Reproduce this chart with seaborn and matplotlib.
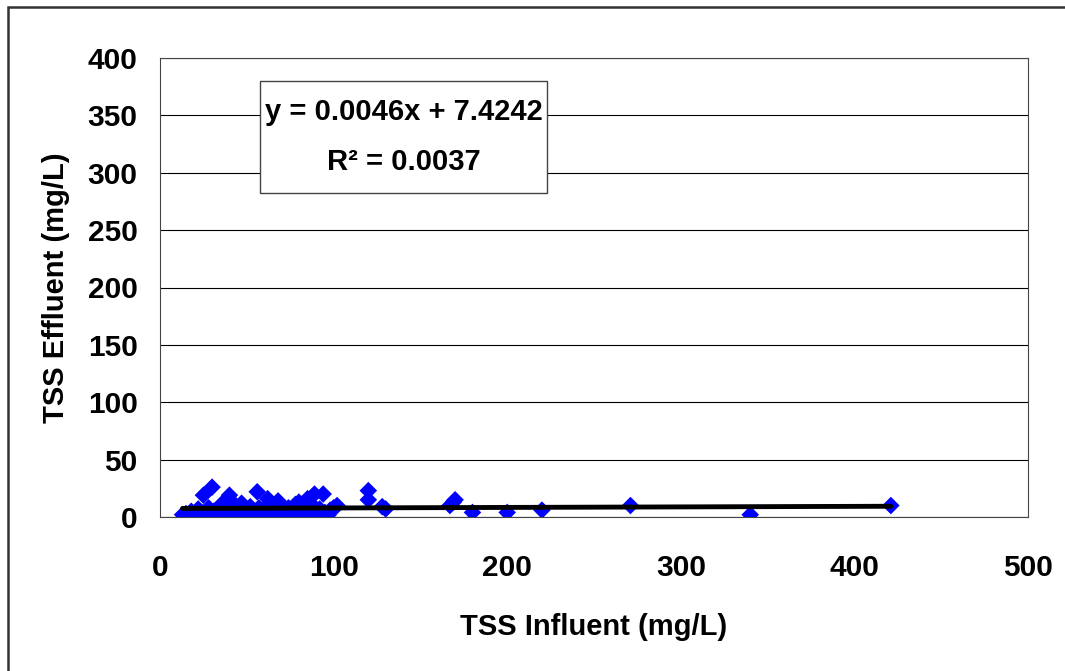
import matplotlib
matplotlib.use("Agg")
import matplotlib.pyplot as plt
import seaborn as sns
import numpy as np
import pandas as pd
from matplotlib.patches import Rectangle

# values
tss_influent = [13, 15, 18, 20, 22, 24, 25, 26, 28, 30,
                31, 33, 35, 36, 38, 40, 41, 42, 44, 45,
                47, 48, 50, 52, 53, 55, 56, 57, 58, 60,
                62, 63, 65, 66, 68, 70, 72, 74, 75, 77,
                78, 80, 81, 82, 84, 85, 86, 88, 89, 90,
                92, 94, 95, 97, 98, 100, 102, 120, 120, 128,
                130, 167, 169, 170, 180, 200, 220, 271, 340, 421]
tss_effluent = [2, 3, 5, 2, 7, 4, 19, 3, 8, 26,
                5, 2, 10, 12, 4, 19, 14, 3, 7, 2,
                12, 5, 2, 9, 6, 3, 22, 8, 4, 2,
                16, 12, 5, 2, 14, 10, 4, 8, 6, 2,
                11, 13, 4, 8, 3, 16, 6, 10, 20, 3,
                7, 20, 4, 2, 6, 8, 10, 23, 15, 9,
                7, 10, 13, 15, 4, 4, 6, 10, 2, 10]
slope = 0.0046
intercept = 7.4242
r_squared = 0.0037
x_ticks = [0, 100, 200, 300, 400, 500]
y_ticks = [0, 50, 100, 150, 200, 250, 300, 350, 400]

df = pd.DataFrame({"influent": tss_influent, "effluent": tss_effluent})

sns.set_style("white")
plt.rcParams["font.family"] = ["Liberation Sans", "DejaVu Sans"]
plt.rcParams["font.weight"] = "bold"
for key in ["text.color", "axes.labelcolor", "xtick.color", "ytick.color"]:
    plt.rcParams[key] = "black"

fig = plt.figure(figsize=(10.65, 6.71), dpi=100)
ax = fig.add_axes([160 / 1065, 1 - 517 / 671, 868 / 1065, 459 / 671])

# horizontal gridlines
for yv in y_ticks:
    ax.axhline(yv, color="black", linewidth=0.8, zorder=0)

sns.scatterplot(data=df, x="influent", y="effluent", marker="D", s=80,
                color="#0000FF", edgecolor="none", ax=ax, zorder=3)

# trend line over the data range
xl = np.array([min(tss_influent), max(tss_influent)])
ax.plot(xl, slope * xl + intercept, color="black", linewidth=3.5, zorder=4)

ax.set_xlim(0, 500)
ax.set_ylim(0, 400)
ax.set_xticks(x_ticks)
ax.set_yticks(y_ticks)
ax.tick_params(axis="both", direction="out", length=7, width=0.8,
               color="black", labelsize=21.5)
ax.tick_params(axis="x", pad=20)
ax.tick_params(axis="y", pad=9)
for lab in ax.get_xticklabels() + ax.get_yticklabels():
    lab.set_fontweight("bold")
for sp in ax.spines.values():
    sp.set_color("#444444")
    sp.set_linewidth(0.8)

ax.set_xlabel("TSS Influent (mg/L)", fontsize=21, fontweight="bold", labelpad=22)
ax.set_ylabel("TSS Effluent (mg/L)", fontsize=21, fontweight="bold", labelpad=13)

# equation box
ax.add_patch(Rectangle((100 / 868, 324 / 459), 287 / 868, 112 / 459,
                       transform=ax.transAxes, facecolor="white",
                       edgecolor="#444444", linewidth=1.0, zorder=5))
ax.text(0.2805, 0.882, f"y = {slope}x + {intercept}", transform=ax.transAxes,
        ha="center", va="center", fontsize=21, fontweight="bold", zorder=6)
ax.text(0.2805, 0.773, f"R² = {r_squared}", transform=ax.transAxes,
        ha="center", va="center", fontsize=21, fontweight="bold", zorder=6)

# outer chart frame
fig.add_artist(Rectangle((8 / 1065, -0.05), 1.1, 1 - 7 / 671 + 0.05,
                         transform=fig.transFigure, fill=False,
                         edgecolor="#333333", linewidth=1.8))

fig.savefig("out.png", dpi=100)
